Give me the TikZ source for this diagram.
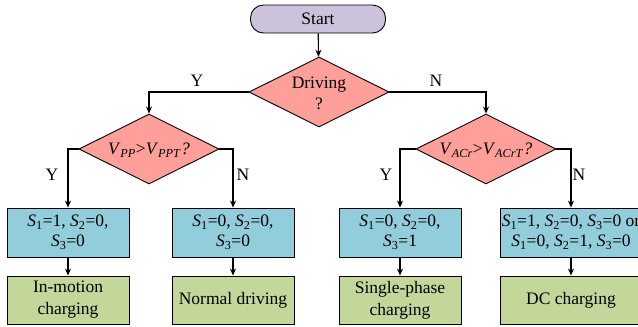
\documentclass[tikz,border=0pt]{standalone}
\usepackage{fontspec}
\setmainfont{Liberation Serif}
\usetikzlibrary{shapes.geometric,arrows.meta}
\definecolor{startc}{HTML}{CCC2DC}
\definecolor{decc}{HTML}{FE9F9A}
\definecolor{actc}{HTML}{92CDDC}
\definecolor{resc}{HTML}{C4D79B}
\newcommand{\Sv}[1]{\textit{S}\textsubscript{#1}}
\begin{document}
\begin{tikzpicture}[x=1bp,y=-1bp,
  every node/.style={font=\fontsize{17.5bp}{20bp}\selectfont},
  startbox/.style={draw, fill=startc, line width=0.9bp, rounded corners=13bp, minimum width=135bp, minimum height=28bp, inner sep=0pt},
  decbox/.style={draw, fill=decc, line width=0.9bp, diamond, minimum width=140bp, minimum height=70bp, inner sep=0pt},
  actbox/.style={draw, fill=actc, line width=0.9bp, minimum width=122bp, minimum height=49bp, inner sep=0pt, align=center},
  resbox/.style={draw, fill=resc, line width=0.9bp, minimum width=122bp, minimum height=48bp, inner sep=0pt, align=center, font=\fontsize{17.5bp}{22bp}\selectfont},
  txt/.style={align=center, inner sep=0pt},
  arr/.style={-{Stealth[length=7bp,width=6bp]}, line width=1.1bp}
]
\clip (0,0) rectangle (638,326);
\useasboundingbox (0,0) rectangle (638,326);
\fill[white] (0,0) rectangle (638,326);

\node[startbox] (start) at (318,19) {Start};

\node[decbox] (drv) at (319,92) {};
\node[txt] (drvt) at (319,93) {Driving\\[1bp]?};

\node[decbox] (vpp) at (149,149) {};
\node[txt] (vppt) at (149,150) {\textit{V}\textsubscript{\textit{PP}}>\textit{V}\textsubscript{\textit{PPT}}\textit{?}};

\node[decbox] (vac) at (486,149) {};
\node[txt] (vact) at (486,150) {\textit{V}\textsubscript{\textit{ACr}}>\textit{V}\textsubscript{\textit{ACrT}}\textit{?}};

\node[actbox] (b1) at (68,232.5) {\Sv{1}=1, \Sv{2}=0,\\\Sv{3}=0};
\node[actbox] (b2) at (233,232.5) {\Sv{1}=0, \Sv{2}=0,\\\Sv{3}=0};
\node[actbox] (b3) at (400,232.5) {\Sv{1}=0, \Sv{2}=0,\\\Sv{3}=1};
\node[actbox, minimum width=142bp] (b4) at (571,232.5) {\Sv{1}=1, \Sv{2}=0, \Sv{3}=0 or\\\Sv{1}=0, \Sv{2}=1, \Sv{3}=0};

\node[resbox] (o1) at (68,300) {In-motion\\charging};
\node[resbox] (o2) at (233,300) {Normal driving};
\node[resbox] (o3) at (400,300) {Single-phase\\charging};
\node[resbox, minimum width=142bp] (o4) at (571,300) {DC charging};

\draw[arr] (start) -- (drv);
\draw[arr] (drv.west) -| (vpp.north);
\draw[arr] (drv.east) -| (vac.north);
\draw[arr] (vpp.west) -| (b1.north);
\draw[arr] (vpp.east) -| (b2.north);
\draw[arr] (vac.west) -| (b3.north);
\draw[arr] (vac.east) -| (b4.north);
\draw[arr] (b1) -- (o1);
\draw[arr] (b2) -- (o2);
\draw[arr] (b3) -- (o3);
\draw[arr] (b4) -- (o4);

\node[txt] (ly1) at (197,81) {Y};
\node[txt] (ln1) at (436,81) {N};
\node[txt] (ly2) at (52,175) {Y};
\node[txt] (ln2) at (243,175) {N};
\node[txt] (ly3) at (386,175) {Y};
\node[txt] (ln3) at (579,175) {N};
\end{tikzpicture}
\end{document}
